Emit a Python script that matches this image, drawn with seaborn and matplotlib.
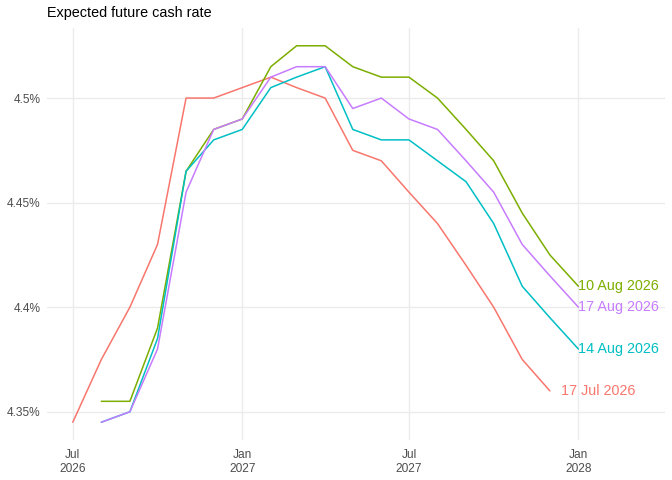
import pandas as pd
import matplotlib
matplotlib.use("Agg")
import matplotlib.pyplot as plt
import matplotlib.dates as mdates
import seaborn as sns

# monthly contract dates, Jul 2026 .. Jan 2028
months = pd.date_range("2026-07-01", "2028-01-01", freq="MS")

# expected cash rate (%) by survey date
jul17 = [4.345, 4.375, 4.40, 4.43, 4.50, 4.50, 4.505, 4.51, 4.505, 4.50,
         4.475, 4.47, 4.455, 4.44, 4.42, 4.40, 4.375, 4.36]
aug10 = [4.355, 4.355, 4.39, 4.465, 4.485, 4.49, 4.515, 4.525, 4.525,
         4.515, 4.51, 4.51, 4.50, 4.485, 4.47, 4.445, 4.425, 4.41]
aug14 = [4.345, 4.35, 4.385, 4.465, 4.48, 4.485, 4.505, 4.51, 4.515,
         4.485, 4.48, 4.48, 4.47, 4.46, 4.44, 4.41, 4.395, 4.38]
aug17 = [4.345, 4.35, 4.38, 4.455, 4.485, 4.49, 4.51, 4.515, 4.515,
         4.495, 4.50, 4.49, 4.485, 4.47, 4.455, 4.43, 4.415, 4.40]

series = {
    "17 Jul 2026": (months[:18], jul17),
    "10 Aug 2026": (months[1:], aug10),
    "14 Aug 2026": (months[1:], aug14),
    "17 Aug 2026": (months[1:], aug17),
}
colors = ["#F8766D", "#7CAE00", "#00BFC4", "#C77CFF"]

df = pd.concat(
    [pd.DataFrame({"date": d, "rate": v, "survey": k}) for k, (d, v) in series.items()],
    ignore_index=True,
)

sns.set_theme(style="whitegrid")
plt.rcParams["font.family"] = ["Liberation Sans", "DejaVu Sans"]

fig = plt.figure(figsize=(6.72, 4.8), dpi=100)
ax = fig.add_axes([47 / 672, 40 / 480, 618 / 672, 412 / 480])

sns.lineplot(data=df, x="date", y="rate", hue="survey", palette=colors,
             linewidth=1.1, legend=False, ax=ax)

# end-of-line labels
for (name, (d, v)), c in zip(series.items(), colors):
    off = 8 if name == "17 Jul 2026" else 0
    ax.annotate(name, (d[-1], v[-1]), xytext=(off, 0), textcoords="offset points",
                ha="left", va="center", color=c, fontsize=10.4)

ax.set_xlim(pd.Timestamp("2026-06-03"), pd.Timestamp("2028-04-04"))
ax.set_ylim(4.3365, 4.5335)
ax.xaxis.set_major_locator(mdates.MonthLocator(bymonth=[1, 7]))
ax.xaxis.set_major_formatter(mdates.DateFormatter("%b\n%Y"))
ax.set_yticks([4.35, 4.40, 4.45, 4.50])
ax.set_yticklabels(["4.35%", "4.4%", "4.45%", "4.5%"])

ax.set_facecolor("white")
ax.grid(True, color="#EBEBEB", linewidth=1.0)
for s in ax.spines.values():
    s.set_visible(False)
ax.tick_params(axis="both", length=0, labelsize=8.6, colors="#4D4D4D")
ax.tick_params(axis="x", pad=6.5)
ax.tick_params(axis="y", pad=4.5)
ax.set_xlabel("")
ax.set_ylabel("")
ax.set_title("Expected future cash rate", loc="left", fontsize=10.4, color="black", pad=8)

fig.savefig("out.png", dpi=100, facecolor="white")
